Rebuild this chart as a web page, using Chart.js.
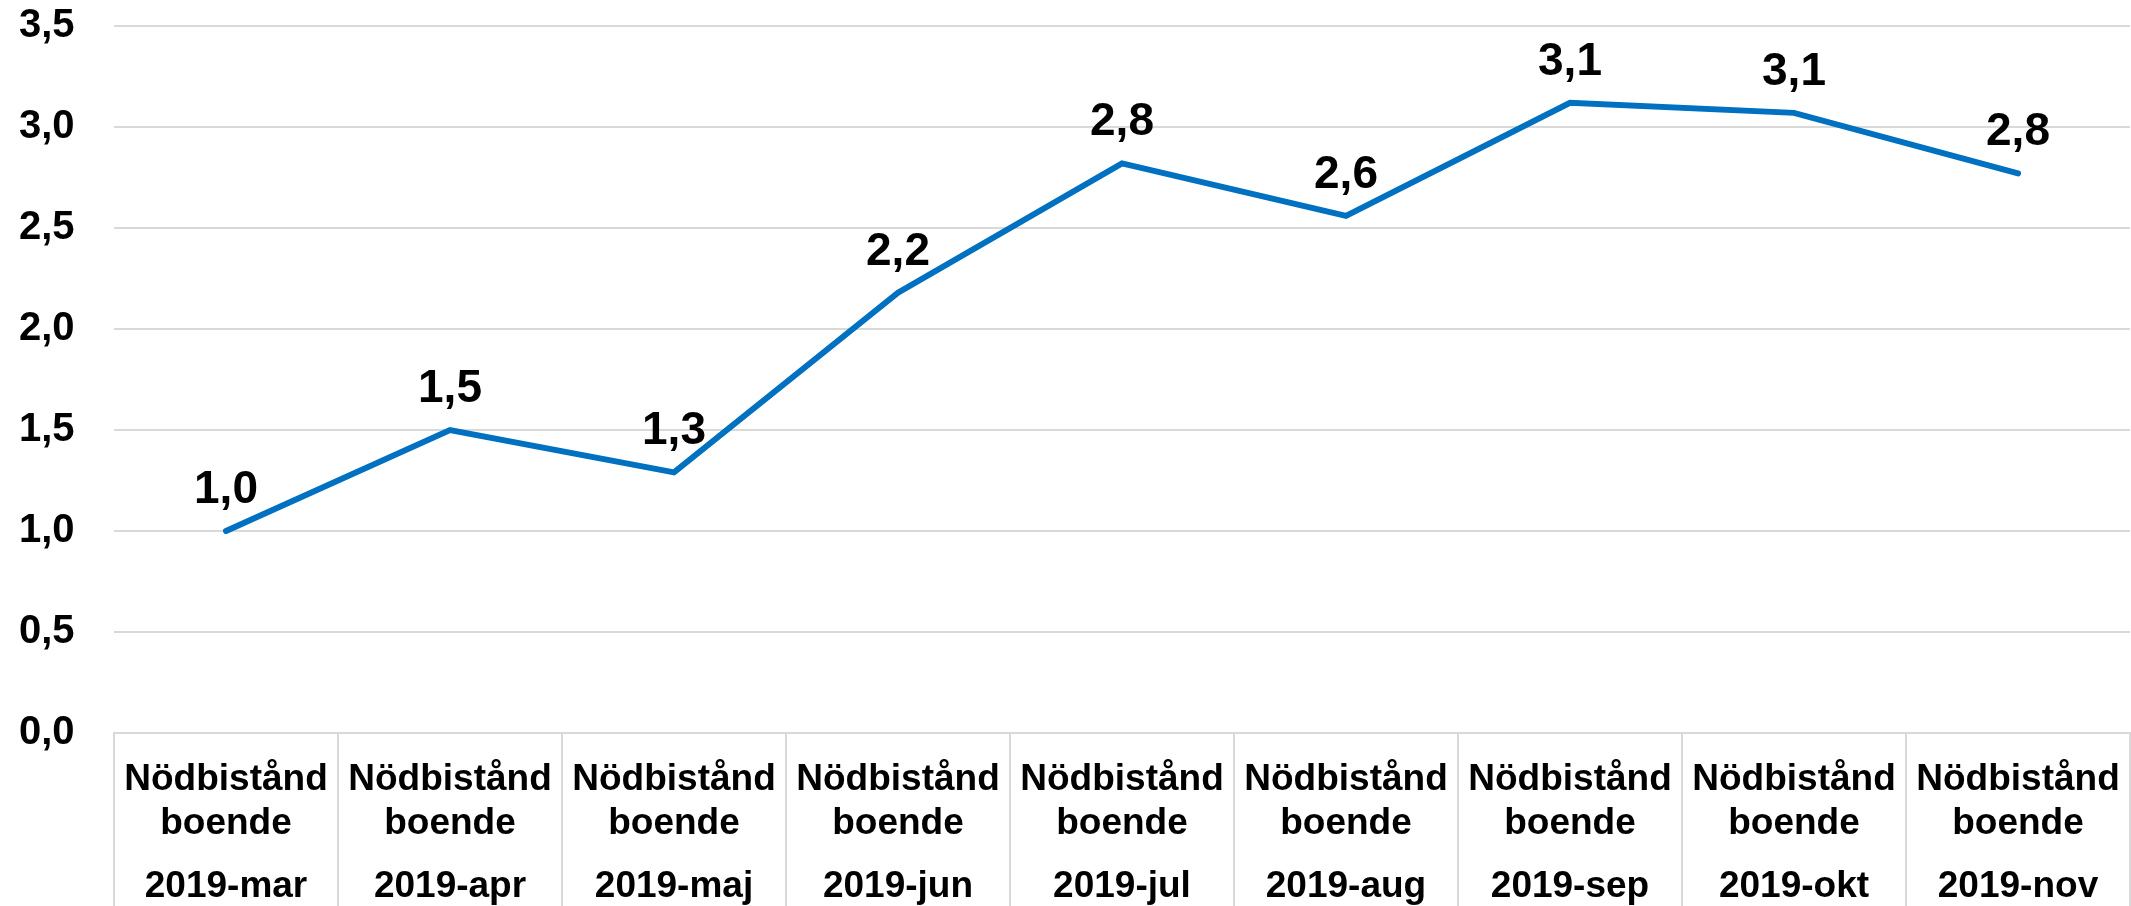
<!DOCTYPE html>
<html>
<head>
<meta charset="utf-8">
<script src="https://cdn.jsdelivr.net/npm/chart.js@4/dist/chart.umd.min.js"></script>
<style>
  body { margin: 0; background: #fff; }
  #wrap { width: 2131px; height: 906px; position: relative; }
</style>
</head>
<body>
<div id="wrap"><canvas id="myChart"></canvas></div>
<script>
/* global Chart */

{
  'use strict';

  /* Data */

  const months = ['2019-mar', '2019-apr', '2019-maj', '2019-jun', '2019-jul', '2019-aug', '2019-sep', '2019-okt', '2019-nov'];
  const seriesName = ['Nödbistånd', 'boende'];
  const values = [1.00, 1.50, 1.29, 2.18, 2.82, 2.56, 3.12, 3.07, 2.77];
  const yMin = 0;
  const yMax = 3.5;
  const yStep = 0.5;

  const FONT = "'Liberation Sans', Arial, sans-serif";
  const GRID = '#d9d9d9';

  function fmt(v) {
    return Number(v).toFixed(1).replace('.', ',');
  }

  // values written above every point
  const pointLabels = {
    id: 'pointLabels',
    afterDatasetsDraw(chart) {
      const c = chart.ctx;
      const meta = chart.getDatasetMeta(0);
      c.save();
      c.font = 'bold 46px ' + FONT;
      c.fillStyle = '#000';
      c.textAlign = 'center';
      c.textBaseline = 'alphabetic';
      meta.data.forEach(function(pt, i) {
        c.fillText(fmt(values[i]), pt.x, pt.y - 28);
      });
      c.restore();
    }
  };

  /* Chart */

  const ctx = document.getElementById('myChart').getContext('2d');

  const chart = new Chart(ctx, {
    type: 'line',
    data: {
      labels: months,
      datasets: [{
        label: seriesName.join(' '),
        data: values,
        borderColor: '#0070C0',
        backgroundColor: '#0070C0',
        borderWidth: 6,
        borderCapStyle: 'round',
        pointRadius: 0,
        tension: 0,
        xAxisID: 'x',
      }]
    },
    options: {
      responsive: true,
      maintainAspectRatio: false,
      devicePixelRatio: 1,
      animation: false,
      layout: { padding: { top: 26, right: 1, left: 19, bottom: 0 } },
      plugins: {
        legend: { display: false },
        tooltip: { enabled: false },
      },
      scales: {
        y: {
          min: yMin,
          max: yMax,
          afterFit(scale) { scale.width = 95; },
          ticks: {
            stepSize: yStep,
            padding: 0,
            crossAlign: 'far',
            color: '#000',
            font: { family: FONT, size: 40, weight: 'bold' },
            callback: fmt,
          },
          grid: { color: GRID, lineWidth: 2, drawTicks: false },
          border: { display: false },
        },
        x: {
          position: 'bottom',
          offset: true,
          afterFit(scale) { scale.height = 108; },
          ticks: {
            padding: -83,
            maxRotation: 0,
            autoSkip: false,
            color: '#000',
            font: { family: FONT, size: 37, weight: 'bold', lineHeight: '44px' },
            callback: function() { return seriesName; },
          },
          grid: { offset: true, drawOnChartArea: false, tickLength: 108, color: GRID, lineWidth: 2 },
          border: { display: true, color: GRID, width: 2 },
        },
        x2: {
          type: 'category',
          position: 'bottom',
          labels: months,
          offset: true,
          afterFit(scale) { scale.height = 65; },
          ticks: {
            padding: -41,
            maxRotation: 0,
            autoSkip: false,
            color: '#000',
            font: { family: FONT, size: 37, weight: 'bold' },
          },
          grid: { offset: true, drawOnChartArea: false, tickLength: 65, color: GRID, lineWidth: 2 },
          border: { display: false },
        },
      },
    },
    plugins: [pointLabels],
  });
  console.log(chart);
}
</script>
</body>
</html>
